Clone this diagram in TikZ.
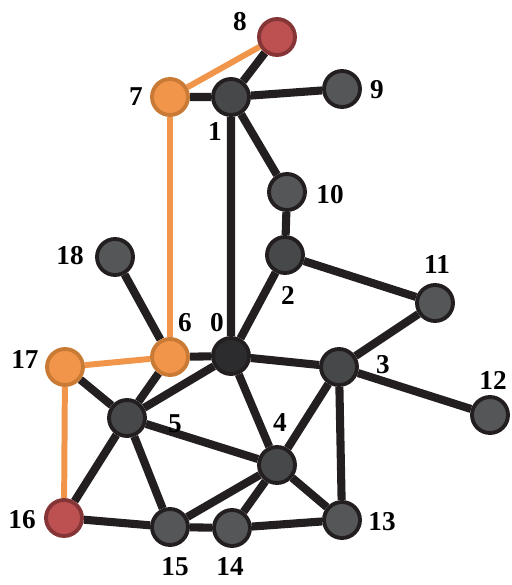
\documentclass[tikz,border=0pt]{standalone}
\usepackage{fontspec}
\setmainfont{Liberation Serif}
\usetikzlibrary{backgrounds}

\definecolor{vdark}{HTML}{46484A}
\definecolor{vdeep}{HTML}{2C2C2E}
\definecolor{vgrey}{HTML}{545658}
\definecolor{vline}{HTML}{231F20}
\definecolor{vorange}{HTML}{F0954A}
\definecolor{vorangeb}{HTML}{C97A35}
\definecolor{vred}{HTML}{BD5152}
\definecolor{vredb}{HTML}{853536}

\begin{document}
\begin{tikzpicture}[x=0.02cm,y=-0.02cm,
  vert/.style={circle,draw=vline,line width=2.2pt,minimum size=0.72cm,inner sep=0pt,fill=vdark},
  deep/.style={vert,fill=vdeep},
  light/.style={vert,fill=vgrey},
  hot/.style={vert,draw=vorangeb,fill=vorange},
  cut/.style={vert,draw=vredb,fill=vred},
  tag/.style={font=\fontsize{15.5}{18}\selectfont\bfseries,inner sep=0pt},
  edge/.style={draw=vline,line width=4.6pt},
  path/.style={draw=vorange,line width=3.4pt}]
\useasboundingbox (0,0) rectangle (511,585);

% vertices
\node[deep] (v0) at (231,356) {};
\node[vert] (v1) at (231,97) {};
\node[vert] (v2) at (285,255) {};
\node[vert] (v3) at (339,367) {};
\node[vert] (v4) at (277,465) {};
\node[vert] (v5) at (127,418) {};
\node[hot] (v6) at (170,357) {};
\node[hot] (v7) at (170,97) {};
\node[cut] (v8) at (277,37) {};
\node[light] (v9) at (342,89) {};
\node[light] (v10) at (287,192) {};
\node[light] (v11) at (435,303) {};
\node[light] (v12) at (490,415) {};
\node[light] (v13) at (342,520) {};
\node[light] (v14) at (232,528) {};
\node[light] (v15) at (170,527) {};
\node[cut] (v16) at (64,518) {};
\node[hot] (v17) at (65,367) {};
\node[light] (v18) at (115,257) {};

% numbers
\node[tag] (t0) at (217,323) {0};
\node[tag] (t1) at (215,132) {1};
\node[tag] (t2) at (288,295) {2};
\node[tag] (t3) at (383,365) {3};
\node[tag] (t4) at (280,423) {4};
\node[tag] (t5) at (175,424) {5};
\node[tag] (t6) at (185,323) {6};
\node[tag] (t7) at (136,97) {7};
\node[tag] (t8) at (240,22) {8};
\node[tag] (t9) at (377,90) {9};
\node[tag] (t10) at (330,195) {10};
\node[tag] (t11) at (437,265) {11};
\node[tag] (t12) at (493,380) {12};
\node[tag] (t13) at (382,522) {13};
\node[tag] (t14) at (230,567) {14};
\node[tag] (t15) at (175,567) {15};
\node[tag] (t16) at (22,520) {16};
\node[tag] (t17) at (25,360) {17};
\node[tag] (t18) at (70,256) {18};

\begin{pgfonlayer}{background}
  \path[edge] (v8) -- (v1) (v7) -- (v1) (v1) -- (v9) (v1) -- (v10) (v1) -- (v0)
    (v10) -- (v2) (v2) -- (v11) (v2) -- (v0) (v11) -- (v3) (v3) -- (v12)
    (v0) -- (v3) (v0) -- (v4) (v0) -- (v5) (v0) -- (v6) (v6) -- (v18)
    (v6) -- (v5) (v17) -- (v5) (v5) -- (v16) (v5) -- (v15) (v5) -- (v4)
    (v3) -- (v4) (v3) -- (v13) (v4) -- (v13) (v4) -- (v14) (v4) -- (v15)
    (v16) -- (v15) (v15) -- (v14) (v14) -- (v13);
  \path[path] (v8) -- (v7) (v7) -- (v6) (v6) -- (v17) (v17) -- (v16);
\end{pgfonlayer}
\end{tikzpicture}
\end{document}
